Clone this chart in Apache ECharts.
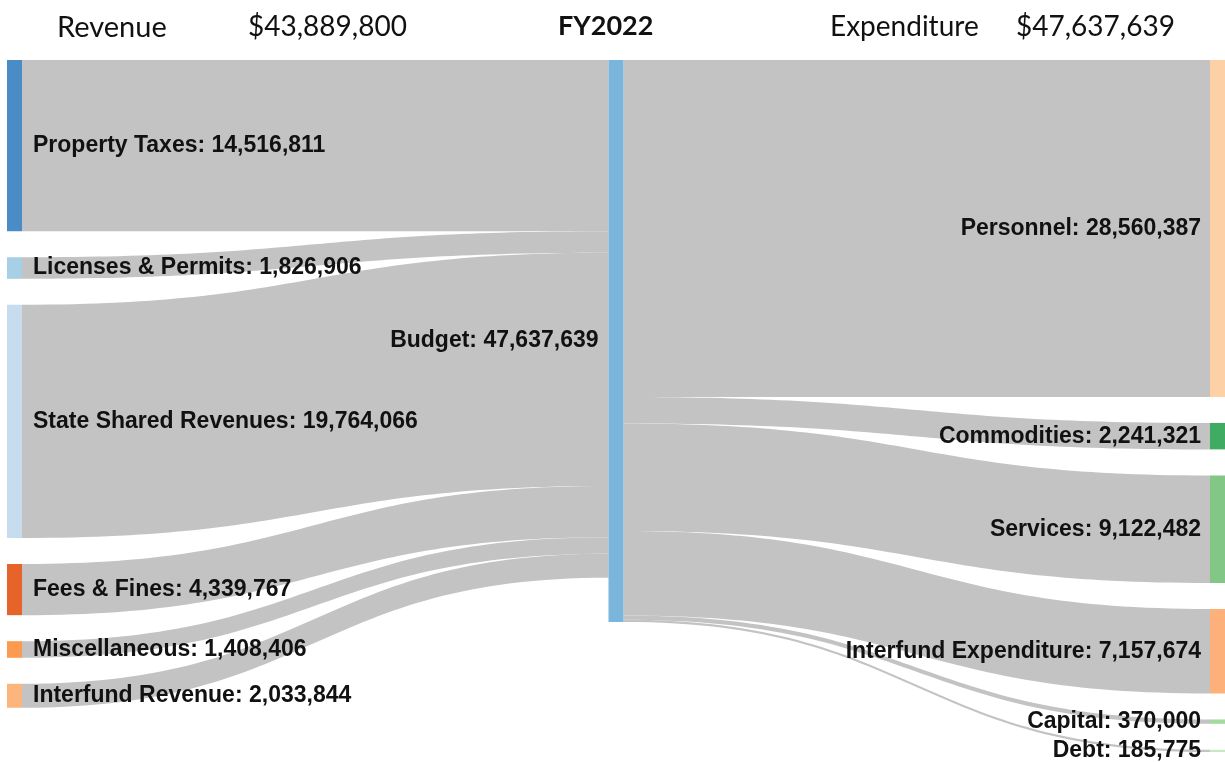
<!DOCTYPE html>
<html>
<head>
<meta charset="utf-8">
<script src="https://cdn.jsdelivr.net/npm/echarts@6/dist/echarts.min.js"></script>
<style>
html,body{margin:0;padding:0;background:#fff;}
#chart{width:1225px;height:762px;}
</style>
</head>
<body>
<div id="chart"></div>
<script>
const fiscalYear = 'FY2022';
const centerName = 'Budget';
const revenueNames = ['Property Taxes', 'Licenses & Permits', 'State Shared Revenues', 'Fees & Fines', 'Miscellaneous', 'Interfund Revenue'];
const revenueValues = [14516811, 1826906, 19764066, 4339767, 1408406, 2033844];
const revenueColors = ['#4a8cc6', '#a7cfe6', '#c8dcf0', '#e6642a', '#fb9a50', '#fdb57e'];
const expenseNames = ['Personnel', 'Commodities', 'Services', 'Interfund Expenditure', 'Capital', 'Debt'];
const expenseValues = [28560387, 2241321, 9122482, 7157674, 370000, 185775];
const expenseColors = ['#fdd1a5', '#3fab63', '#82c785', '#fdb07a', '#a3da9d', '#c7e9c0'];
const centerColor = '#7ab5dc';

const fmt = v => Math.round(v).toLocaleString('en-US');
const revenueTotal = revenueValues.reduce((a, b) => a + b, 0);
const expenseTotal = expenseValues.reduce((a, b) => a + b, 0);

const labelFont = { fontFamily: '"Liberation Sans", Arial, sans-serif', fontWeight: 'bold', fontSize: 23, color: '#111' };

const nodes = [];
revenueNames.forEach((n, i) => nodes.push({
  name: n, value: revenueValues[i], depth: 0,
  itemStyle: { color: revenueColors[i] },
  label: Object.assign({ position: 'right', distance: 11 }, labelFont)
}));
nodes.push({
  name: centerName, value: expenseTotal, depth: 1,
  itemStyle: { color: centerColor },
  label: Object.assign({ position: 'left', distance: 10 }, labelFont)
});
expenseNames.forEach((n, i) => nodes.push({
  name: n, value: expenseValues[i], depth: 2,
  itemStyle: { color: expenseColors[i] },
  label: Object.assign({ position: 'left', distance: 9 }, labelFont)
}));

const links = [];
revenueNames.forEach((n, i) => links.push({ source: n, target: centerName, value: revenueValues[i] }));
expenseNames.forEach((n, i) => links.push({ source: centerName, target: n, value: expenseValues[i] }));

const titleFont = { fontFamily: 'Lato, "Open Sans", sans-serif', fontSize: 28, fontWeight: 'normal', color: '#111' };

const chart = echarts.init(document.getElementById('chart'), null, { renderer: 'canvas' });
chart.setOption({
  backgroundColor: '#fff',
  animation: false,
  title: [
    { text: 'Revenue', left: 52, top: 8, textStyle: Object.assign({}, titleFont, { fontSize: 29 }) },
    { text: '$' + fmt(revenueTotal), left: 243, top: 8, textStyle: titleFont },
    { text: fiscalYear, left: 553, top: 8, textStyle: Object.assign({}, titleFont, { fontWeight: 'bold', fontSize: 27 }) },
    { text: 'Expenditure', left: 825, top: 8, textStyle: titleFont },
    { text: '$' + fmt(expenseTotal), left: 1011, top: 8, textStyle: titleFont }
  ],
  series: [{
    type: 'sankey',
    left: 7, right: 0, top: 60, bottom: 10,
    nodeWidth: 15,
    nodeGap: 26,
    nodeAlign: 'justify',
    layoutIterations: 0,
    draggable: false,
    emphasis: { disabled: true },
    data: nodes,
    links: links,
    lineStyle: { color: '#c3c3c3', opacity: 1, curveness: 0.5 },
    itemStyle: { borderWidth: 0 },
    label: {
      formatter: p => p.name + ': ' + fmt(p.value)
    }
  }]
});
</script>
</body>
</html>
